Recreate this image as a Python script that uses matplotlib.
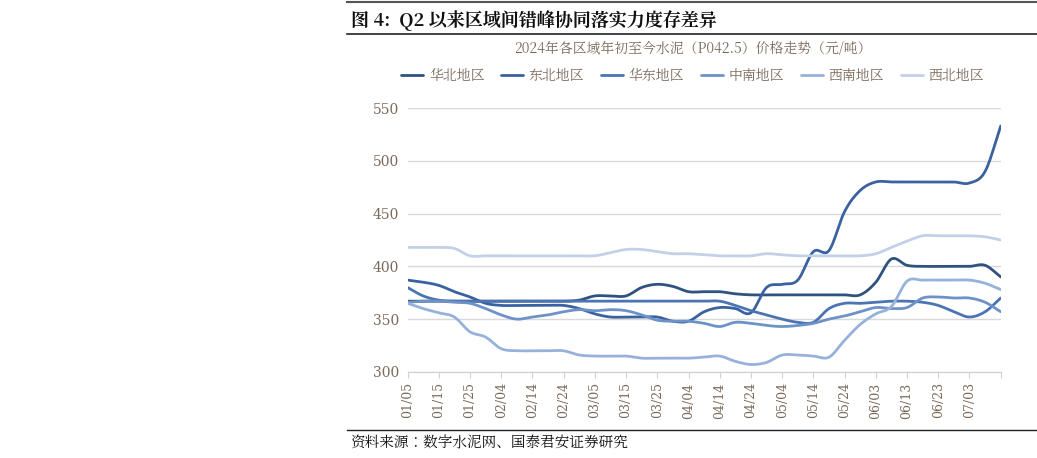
import numpy as np
import matplotlib
matplotlib.use("Agg")
import matplotlib.pyplot as plt
from matplotlib import font_manager as fm

cjk = None
for f in fm.fontManager.ttflist:
    if "CJK" in f.name and ("SC" in f.name or cjk is None):
        cjk = f.name
        if "SC" in f.name:
            break
plt.rcParams['font.family'] = [cjk or 'Noto Sans CJK SC', 'DejaVu Sans']
plt.rcParams['axes.unicode_minus'] = False

tick_labels = ["01/05","01/15","01/25","02/04","02/14","02/24","03/05","03/15","03/25",
               "04/04","04/14","04/24","05/04","05/14","05/24","06/03","06/13","06/23","07/03"]
series_names = ["华北地区","东北地区","华东地区","中南地区","西南地区","西北地区"]
huabei = [367,367,367,367,367,367,367,367,367,367,367,368,372,372,372,380,383,381,376,376,
          376,374,373,373,373,373,373,373,373,373,385,407,401,400,400,400,400,401,390]
dongbei = [387,385,382,376,371,365,363,363,363,363,363,360,355,352,352,352,352,348,348,357,
           361,360,356,380,383,387,414,415,452,472,480,480,480,480,480,480,479,490,533]
huadong = [380,372,368,367,367,367,367,367,367,367,367,367,367,367,367,367,367,367,367,367,
           367,363,358,354,350,347,347,360,365,365,366,367,367,366,363,357,352,357,370]
zhongnan = [366,367,367,366,365,360,354,350,352,354,357,359,358,359,358,354,349,348,348,346,
            343,347,346,344,343,344,346,350,353,357,361,360,361,370,371,370,370,366,357]
xinan = [365,360,356,352,338,333,322,320,320,320,320,316,315,315,315,313,313,313,313,314,
         315,310,307,309,316,316,315,314,330,345,355,362,386,387,387,387,387,384,378]
xibei = [418,418,418,417,410,410,410,410,410,410,410,410,410,413,416,416,414,412,412,411,
         410,410,410,412,411,410,410,410,410,410,412,418,424,429,429,429,429,428,425]
colors = ["#30527f","#3b62a0","#4a74b4","#6e92c8","#97b2da","#c2d0e8"]

def smooth(x, y, n=12):
    x = np.asarray(x, float); y = np.asarray(y, float)
    px = np.concatenate([[2*x[0]-x[1]], x, [2*x[-1]-x[-2]]])
    py = np.concatenate([[2*y[0]-y[1]], y, [2*y[-1]-y[-2]]])
    xs, ys = [], []
    t = np.linspace(0, 1, n, endpoint=False)
    for i in range(1, len(px)-2):
        for arr, out in ((px, xs), (py, ys)):
            p0, p1, p2, p3 = arr[i-1], arr[i], arr[i+1], arr[i+2]
            out.append(0.5*((2*p1) + (-p0+p2)*t + (2*p0-5*p1+4*p2-p3)*t**2 + (-p0+3*p1-3*p2+p3)*t**3))
    xs.append([x[-1]]); ys.append([y[-1]])
    return np.concatenate(xs), np.concatenate(ys)

fig = plt.figure(figsize=(10.37, 4.58), dpi=100)
ax = fig.add_axes([0.393, 0.188, 0.572, 0.576])
xpos = np.arange(len(huabei)) * 0.5
for name, vals, c in zip(series_names, [huabei, dongbei, huadong, zhongnan, xinan, xibei], colors):
    sx, sy = smooth(xpos, vals)
    ax.plot(sx, sy, color=c, lw=2, label=name, solid_capstyle='round')

ax.set_xlim(0, 19)
ax.set_ylim(300, 550)
ax.set_yticks(range(300, 551, 50))
ax.set_xticks(np.arange(0, 20))
ax.set_xticklabels(tick_labels + [""], rotation=90, fontsize=9, color="#7a6a5a", family="DejaVu Serif")
ax.tick_params(axis='y', length=0, labelsize=10, labelcolor="#7a6a5a", pad=6)
for lab in ax.get_yticklabels():
    lab.set_family("DejaVu Serif")
ax.tick_params(axis='x', length=4, color="#d0d0d0")
ax.grid(axis='y', color="#d9d9d9", lw=1)
ax.set_axisbelow(True)
for s in ['top', 'right', 'left']:
    ax.spines[s].set_visible(False)
ax.spines['bottom'].set_color("#d0d0d0")

fig.legend(loc='center', bbox_to_anchor=(0.668, 0.835), ncol=6, frameon=False, fontsize=10,
           handlelength=1.6, columnspacing=1.2, handletextpad=0.4, labelcolor="#7a6a5a")
fig.text(0.668, 0.893, "2024年各区域年初至今水泥（P042.5）价格走势（元/吨）", ha='center', va='center',
         fontsize=10, color="#7a6a5a")
fig.text(0.338, 0.955, "图 4:  Q2 以来区域间错峰协同落实力度存差异", ha='left', va='center',
         fontsize=13, fontweight='bold', color="#111111")
fig.add_artist(plt.Line2D([0.335, 1.0], [0.995, 0.995], color="#555555", lw=1.5))
fig.add_artist(plt.Line2D([0.335, 1.0], [0.925, 0.925], color="#222222", lw=1.2))
fig.add_artist(plt.Line2D([0.335, 1.0], [0.062, 0.062], color="#222222", lw=1))
fig.text(0.338, 0.033, "资料来源：数字水泥网、国泰君安证券研究", ha='left', va='center', fontsize=10.5, color="#111111")
fig.savefig("out.png", dpi=100)
